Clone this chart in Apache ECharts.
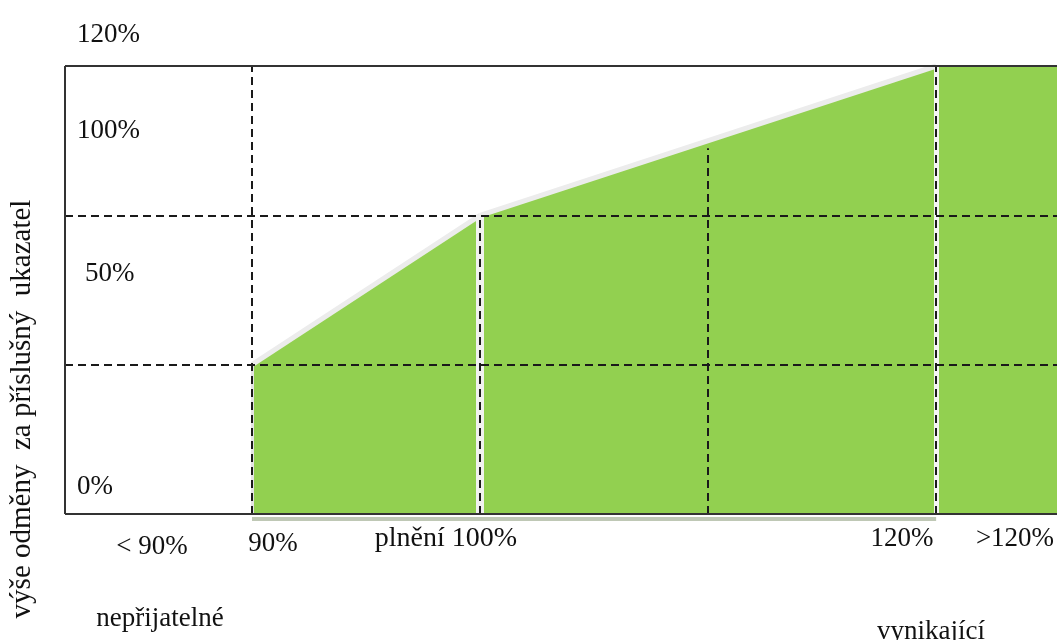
<!DOCTYPE html>
<html>
<head>
<meta charset="utf-8">
<script src="https://cdn.jsdelivr.net/npm/echarts@6/dist/echarts.min.js"></script>
<style>
  html, body { margin: 0; padding: 0; background: #fff; }
  #chart { width: 1057px; height: 640px; }
</style>
</head>
<body>
<div id="chart"></div>
<script>
// Reward schedule: performance (plnění, %) against reward level
const performance = [90, 100, 120];
const reward = [40, 80, 120];
const beyondEnd = 125.3;          // ">120%" band runs to the right edge
const xMin = 81.8, xMax = 125.3;  // axis range of performance
const yMin = -2, yMax = 120;

// Reference grid levels
const gridX = [90, 100, 110, 120];
const gridXTop = [120, 80, 98, 120];
const gridY = [40, 80];

// Texts
const yTickLabels = ['0%', '50%', '100%', '120%'];
const xTickLabels = ['< 90%', '90%', 'plnění 100%', '120%', '>120%'];
const zoneLabels = ['nepřijatelné', 'vynikající'];
const yTitle = 'výše odměny  za příslušný  ukazatel';

const GREEN = '#92d050';
const FONT = 'Liberation Serif';

const rampLow = [[performance[0], reward[0]], [performance[1], reward[1]]];
const rampHigh = [[performance[1], reward[1]], [performance[2], reward[2]]];
const flatTop = [[performance[2], reward[2]], [beyondEnd, reward[2]]];

function seg(a, b, style) {
  const first = { coord: a };
  if (style) first.lineStyle = style;
  return [first, { coord: b }];
}

const chart = echarts.init(document.getElementById('chart'), null, { renderer: 'canvas' });

function areaSeries(data, edgeWidth) {
  return {
    type: 'line',
    data: data,
    symbol: 'none',
    silent: true,
    z: 2,
    lineStyle: { color: '#ececec', width: edgeWidth },
    areaStyle: { color: GREEN, opacity: 1 }
  };
}

function txt(text, x, y, align, size) {
  return {
    type: 'text', x: x, y: y, silent: true,
    style: { text: text, fill: '#111', font: (size || 27) + 'px "' + FONT + '"',
             align: align || 'center', verticalAlign: 'middle' }
  };
}

const option = {
  animation: false,
  grid: { left: 65, right: 0, top: 66, bottom: 118.5, show: false },
  xAxis: {
    type: 'value', min: xMin, max: xMax,
    axisLine: { show: false }, axisTick: { show: false },
    axisLabel: { show: false }, splitLine: { show: false }
  },
  yAxis: {
    type: 'value', min: yMin, max: yMax,
    axisLine: { show: false }, axisTick: { show: false },
    axisLabel: { show: false }, splitLine: { show: false }
  },
  series: [
    areaSeries(rampLow, 5),
    areaSeries(rampHigh, 5),
    areaSeries(flatTop, 0),
    // light seams between the shaded blocks and the drop shadow below them
    {
      type: 'line', data: [], silent: true,
      markLine: {
        z: 5, silent: true, symbol: ['none', 'none'], label: { show: false },
        emphasis: { disabled: true },
        data: [
          seg([performance[0], 0], [performance[0], reward[0]],
            { color: '#e4e4e4', width: 3, type: 'solid' }),
          seg([performance[1], 0], [performance[1], reward[1]],
            { color: '#f1f1f1', width: 8, type: 'solid' }),
          seg([performance[2], 0], [performance[2], reward[2]],
            { color: '#f4f4f4', width: 5, type: 'solid' }),
          seg([performance[0], -1.2], [performance[2], -1.2],
            { color: '#bfc8b5', width: 4, type: 'solid' })
        ]
      }
    },
    // dashed reference grid
    {
      type: 'line', data: [], silent: true,
      markLine: {
        z: 6, silent: true, symbol: ['none', 'none'], label: { show: false },
        emphasis: { disabled: true },
        lineStyle: { color: '#1a1a1a', width: 2, type: [8, 5] },
        data: gridX.map((x, i) => seg([x, 0], [x, gridXTop[i]]))
          .concat(gridY.map(y => seg([xMin, y], [xMax, y])))
      }
    },
    // chart frame
    {
      type: 'line', data: [], silent: true,
      markLine: {
        z: 7, silent: true, symbol: ['none', 'none'], label: { show: false },
        emphasis: { disabled: true },
        lineStyle: { color: '#333', width: 2, type: 'solid' },
        data: [
          seg([xMin, 0], [xMax, 0]),
          seg([xMin, yMax], [xMax, yMax]),
          seg([xMin, 0], [xMin, yMax])
        ]
      }
    }
  ],
  graphic: [
    txt(yTickLabels[3], 77, 35, 'left'),
    txt(yTickLabels[2], 77, 131, 'left'),
    txt(yTickLabels[1], 85, 274, 'left'),
    txt(yTickLabels[0], 77, 487, 'left'),
    txt(xTickLabels[0], 152, 547),
    txt(xTickLabels[1], 273, 544),
    txt(xTickLabels[2], 446, 539, 'center', 28),
    txt(xTickLabels[3], 902, 539),
    txt(xTickLabels[4], 1015, 539),
    txt(zoneLabels[0], 160, 619),
    txt(zoneLabels[1], 931, 632),
    Object.assign(txt(yTitle, 22, 409, 'center', 29), { rotation: Math.PI / 2 })
  ]
};

chart.setOption(option);
</script>
</body>
</html>
